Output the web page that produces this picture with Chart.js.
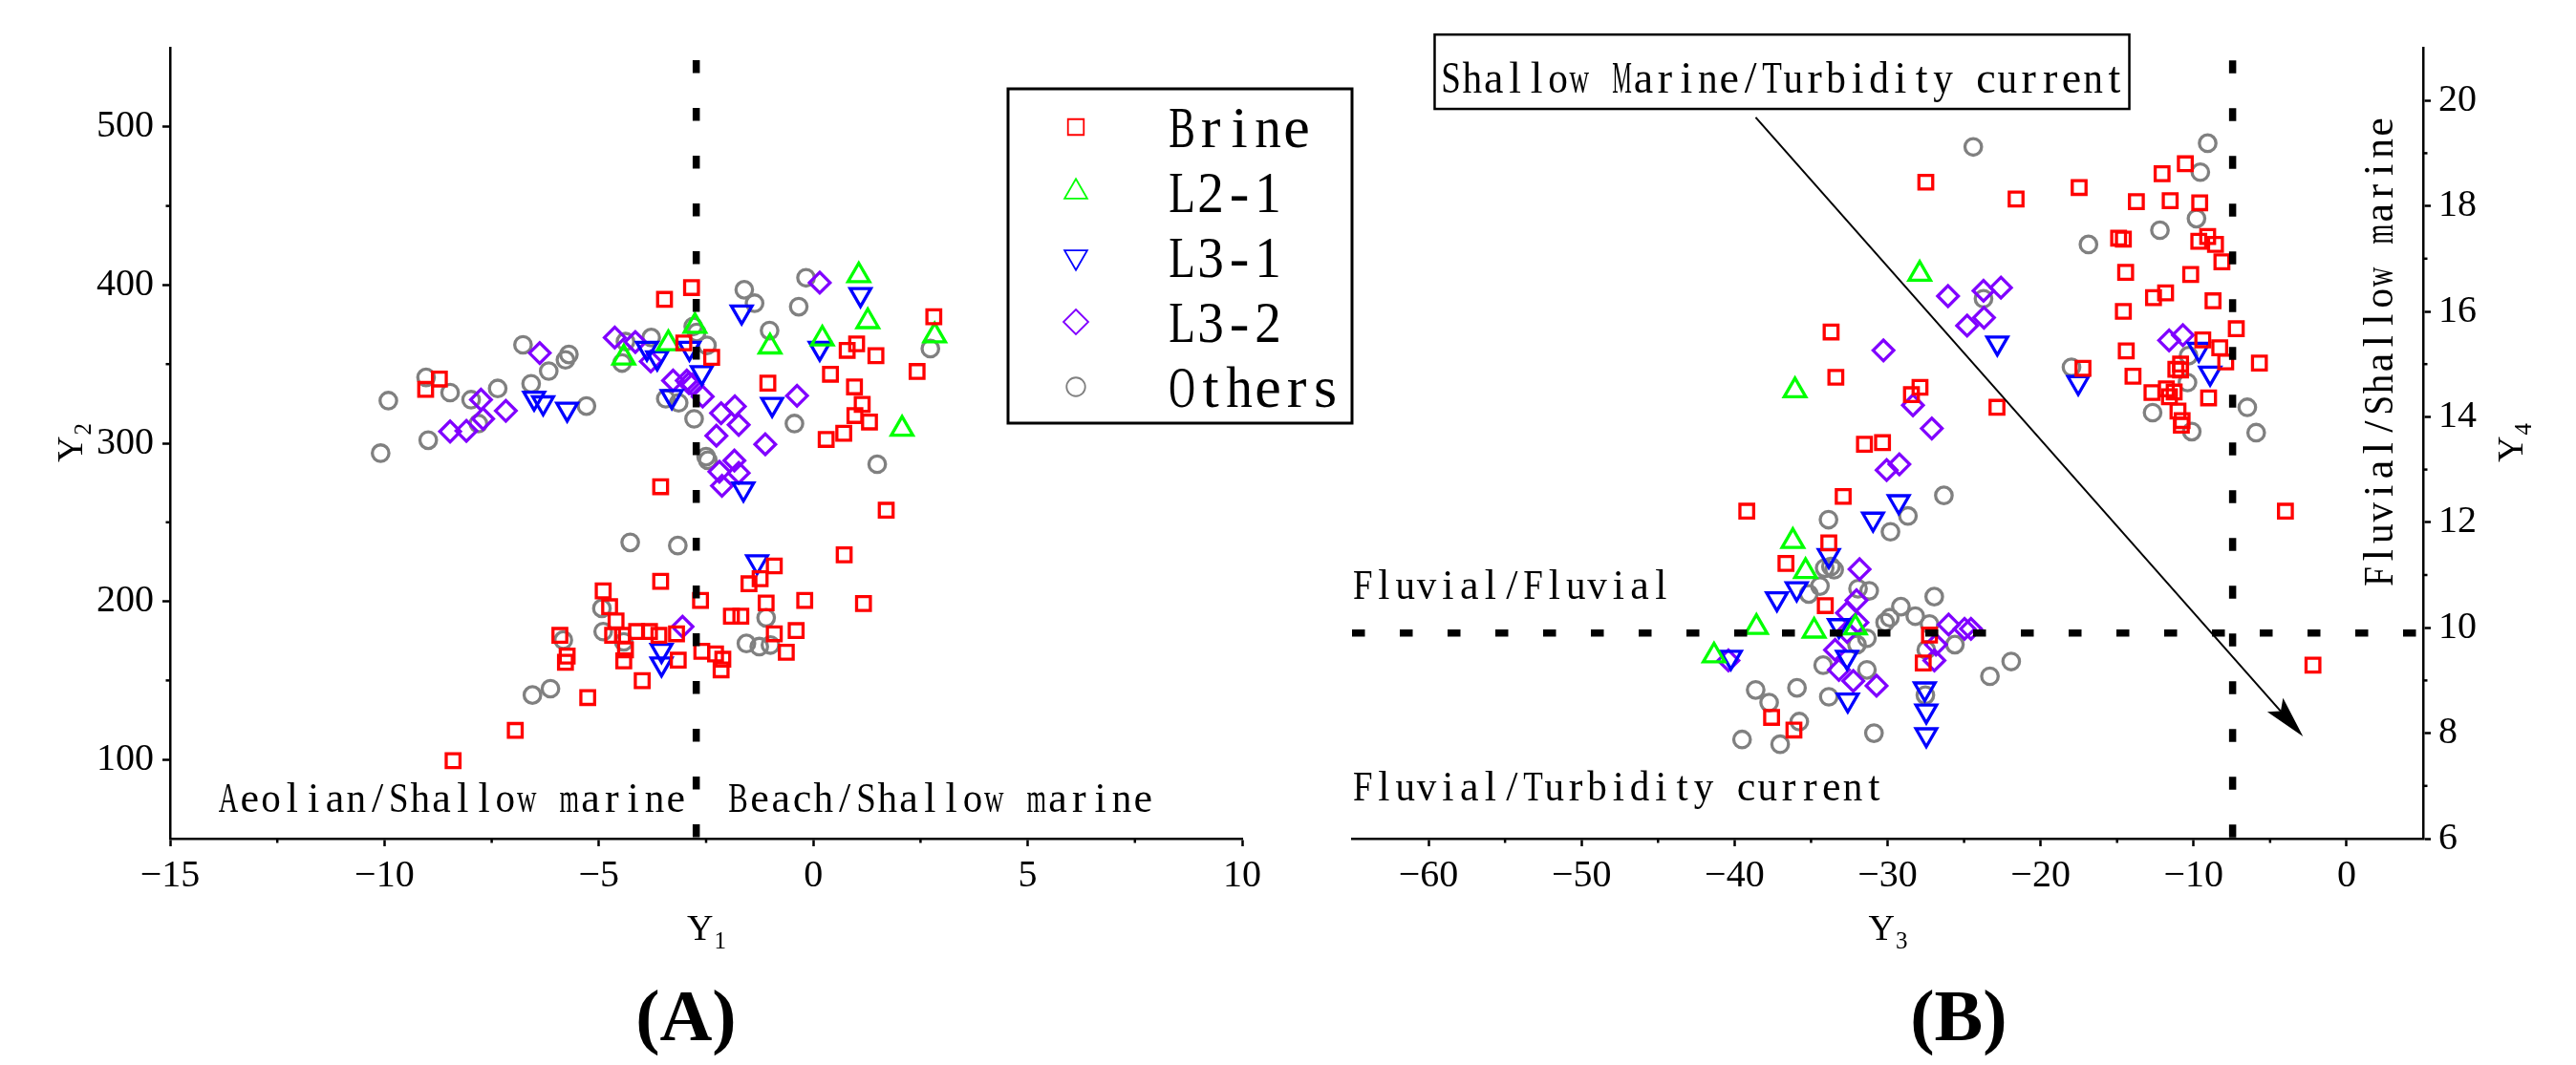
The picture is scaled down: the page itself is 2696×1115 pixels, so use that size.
<!DOCTYPE html>
<html>
<head>
<meta charset="utf-8">
<title>Y1-Y2 / Y3-Y4 scatter</title>
<script src="https://cdn.jsdelivr.net/npm/chart.js@4.4.1/dist/chart.umd.min.js"></script>
<style>
    html, body { margin: 0; padding: 0; background: #fff; }
    #wrap { position: relative; width: 2696px; height: 1115px; overflow: hidden; background: #fff; }
    #chartA { position: absolute; left: 0; top: 0; }
    #chartB { position: absolute; left: 1348px; top: 0; }
</style>
</head>
<body>
<div id="wrap">
    <canvas id="chartA" width="1420" height="1115"></canvas>
    <canvas id="chartB" width="1348" height="1115"></canvas>
</div>
<script>
'use strict';

// ---------- Panel A: Y1 vs Y2 ----------
const xTicksA = [-15, -10, -5, 0, 5, 10];
const yTicksA = [100, 200, 300, 400, 500];

const brineA = [
    [-9.04, 334], [-8.72, 340.6], [-3.47, 390.9], [-2.84, 398.4], [-3.02, 363.4], [-2.37, 354.3],
    [2.81, 379.9], [2.42, 345.3], [1.01, 362.8], [0.79, 358.7], [1.46, 355.3], [0.40, 343.6],
    [0.96, 335.6], [1.14, 324.5], [0.97, 317.5], [1.31, 313.4], [0.71, 306.3], [0.30, 302.4],
    [-1.06, 338], [-3.56, 272.5], [1.70, 257.6], [0.72, 229.4], [-0.91, 222.4], [-1.24, 214.3],
    [-1.50, 211.1], [-3.56, 212.7], [-4.90, 206.6], [-4.75, 196.6], [-2.63, 200.6], [-1.10, 199],
    [-0.20, 200.6], [1.17, 198.6], [-1.91, 190.6], [-1.69, 190.6], [-4.60, 187.6], [-0.40, 181.5],
    [-0.91, 179.5], [-0.63, 167.8], [-2.60, 168.4], [-2.28, 166.8], [-2.11, 163.4], [-2.15, 156.7],
    [-3.15, 162.8], [-3.19, 179.5], [-3.60, 178.5], [-3.82, 180.9], [-4.12, 180.9], [-4.45, 178.5],
    [-4.68, 178.5], [-4.38, 169.4], [-4.42, 162.4], [-3.99, 149.9], [-5.26, 139.2], [-5.91, 178.5],
    [-5.74, 165.4], [-5.78, 161.5], [-6.95, 118.4], [-8.40, 99.3]
];
const l21A = [
    [1.06, 406], [1.27, 377], [2.83, 368], [-1.01, 361], [0.21, 366], [2.07, 309],
    [-3.38, 363], [-2.76, 374], [-4.42, 354]
];
const l31A = [
    [1.10, 394], [-1.67, 383], [0.15, 360], [-0.96, 324.5], [-1.63, 271], [-1.31, 225],
    [-3.88, 360], [-3.64, 354], [-2.89, 360], [-2.60, 344.6], [-3.30, 329.5], [-6.30, 325.5],
    [-5.74, 321.5], [-6.51, 328.5], [-3.54, 169], [-3.54, 160.4]
];
const l32A = [
    [-6.38, 357], [-7.75, 327.5], [-7.17, 320.5], [-8.47, 307.4], [-8.09, 307.8], [-7.70, 315.4],
    [-4.63, 366.8], [-4.15, 364], [-3.79, 351.7], [-3.27, 339.6], [-2.95, 339.6], [-2.90, 338],
    [-2.82, 337], [-2.58, 329.5], [0.15, 401.5], [-0.38, 330], [-1.83, 323.3], [-2.15, 319],
    [-1.74, 311.6], [-2.26, 304.7], [-1.12, 299.3], [-1.84, 289], [-1.74, 281.2], [-2.19, 282],
    [-2.13, 273.1], [-3.05, 184]
];
const othersA = [
    [-10.09, 293.7], [-9.91, 326.9], [-8.98, 301.9], [-9.03, 341.6], [-8.47, 332], [-7.98, 327.5],
    [-7.81, 312.4], [-7.36, 334.6], [-6.77, 362.2], [-6.58, 337.6], [-6.17, 345.6], [-5.78, 352.7],
    [-5.70, 356.1], [-5.29, 323.5], [-4.46, 350.7], [-4.38, 364.2], [-3.78, 366.8], [-2.80, 373.8],
    [-2.72, 370], [-2.48, 361.8], [-3.44, 328.1], [-3.14, 325.5], [-2.78, 315.4], [-2.46, 289.2],
    [-2.50, 291.5], [-1.61, 397], [-1.37, 388.5], [-0.17, 404.6], [-0.34, 386.3], [-1.02, 371.2],
    [2.73, 359.8], [-0.44, 312.4], [1.49, 286.7], [-4.27, 237.3], [-3.16, 235.3], [-4.93, 195.6],
    [-4.90, 180.9], [-4.42, 174.4], [-5.83, 175.5], [-1.10, 189.6], [-1.56, 173.4], [-1.26, 171.4],
    [-1.00, 172.4], [-6.55, 140.8], [-6.13, 144.8]
];

// ---------- Panel B: Y3 vs Y4 ----------
const xTicksB = [-60, -50, -40, -30, -20, -10, 0];
const yTicksB = [6, 8, 10, 12, 14, 16, 18, 20];

const brineB = [
    [-10.54, 18.80], [-12.06, 18.61], [-17.48, 18.35], [-13.74, 18.08], [-11.53, 18.10], [-9.60, 18.06],
    [-14.90, 17.39], [-14.59, 17.37], [-9.66, 17.33], [-9.08, 17.42], [-8.57, 17.27], [-8.15, 16.94],
    [-14.44, 16.74], [-10.19, 16.70], [-12.62, 16.26], [-11.83, 16.35], [-8.73, 16.20], [-14.59, 16.0],
    [-7.21, 15.67], [-9.40, 15.46], [-8.29, 15.31], [-14.40, 15.25], [-5.70, 15.02], [-7.90, 15.04],
    [-10.85, 15.0], [-11.16, 14.9], [-10.85, 14.89], [-13.96, 14.77], [-17.23, 14.92], [-12.72, 14.46],
    [-11.78, 14.53], [-11.27, 14.47], [-11.58, 14.38], [-9.02, 14.36], [-11.02, 14.11], [-10.75, 13.93],
    [-10.8, 13.84], [-4.0, 12.21], [-2.2, 9.29], [-27.5, 18.45], [-21.6, 18.13], [-33.69, 15.61],
    [-33.38, 14.75], [-27.88, 14.56], [-28.44, 14.42], [-22.85, 14.18], [-31.51, 13.48], [-30.33, 13.51],
    [-32.90, 12.49], [-39.2, 12.21], [-33.84, 11.61], [-36.64, 11.22], [-34.07, 10.42], [-27.26, 9.86],
    [-27.67, 9.33], [-37.58, 8.30], [-36.12, 8.06]
];
const l21B = [
    [-27.9, 16.71], [-36.05, 14.5], [-36.19, 11.64], [-35.36, 11.07], [-38.57, 10.01], [-34.8, 9.94],
    [-41.34, 9.47], [-32.1, 10.0]
];
const l31B = [
    [-22.83, 15.4], [-17.54, 14.65], [-9.66, 15.28], [-8.92, 14.83], [-29.27, 12.39], [-30.95, 12.06],
    [-33.84, 11.37], [-37.23, 10.55], [-35.94, 10.74], [-33.18, 10.04], [-32.65, 9.44], [-40.24, 9.44],
    [-32.6, 8.63], [-27.57, 8.84], [-27.47, 8.42], [-27.47, 7.97]
];
const l32B = [
    [-26.05, 16.29], [-23.73, 16.39], [-22.59, 16.45], [-24.8, 15.73], [-23.7, 15.88], [-30.27, 15.26],
    [-11.6, 15.45], [-10.7, 15.55], [-28.34, 14.22], [-27.11, 13.78], [-30.06, 12.99], [-29.23, 13.1],
    [-31.83, 11.11], [-32.03, 10.52], [-32.65, 10.28], [-31.97, 10.1], [-32.65, 9.92], [-33.43, 9.58],
    [-33.18, 9.2], [-32.24, 8.99], [-30.72, 8.9], [-40.4, 9.38], [-26.01, 10.06], [-24.97, 9.98],
    [-24.55, 9.98], [-26.84, 9.68], [-26.94, 9.38]
];
const othersB = [
    [-24.4, 19.12], [-9.08, 19.19], [-9.56, 18.64], [-9.81, 17.76], [-12.2, 17.54], [-16.87, 17.27],
    [-23.73, 16.24], [-17.98, 14.94], [-10.33, 15.16], [-10.4, 14.65], [-12.68, 14.08], [-10.12, 13.72],
    [-6.49, 14.18], [-5.91, 13.70], [-26.32, 12.51], [-28.67, 12.12], [-29.81, 11.82], [-33.86, 12.05],
    [-33.7, 11.16], [-33.49, 11.10], [-34.11, 11.13], [-34.42, 10.79], [-35.15, 10.64], [-31.2, 10.70],
    [-31.93, 10.74], [-26.95, 10.59], [-29.13, 10.40], [-28.19, 10.22], [-29.85, 10.19], [-30.16, 10.10],
    [-27.26, 10.07], [-31.35, 9.80], [-32.0, 9.68], [-25.6, 9.68], [-27.47, 9.58], [-34.21, 9.29],
    [-31.35, 9.2], [-38.62, 8.82], [-37.74, 8.58], [-35.92, 8.86], [-33.84, 8.69], [-27.53, 8.72],
    [-35.77, 8.22], [-39.51, 7.88], [-37.02, 7.79], [-30.89, 8.0], [-23.31, 9.08], [-21.92, 9.36]
];

const seriesNames = ['Brine', 'L2-1', 'L3-1', 'L3-2', 'Others'];

// estilo de cada serie (mismo orden que seriesNames)
const seriesStyles = [
    { color: '#ff0000', pointStyle: 'rect', radius: 10.2, rotation: 0 },
    { color: '#00ff00', pointStyle: 'triangle', radius: 13, rotation: 0 },
    { color: '#0000ff', pointStyle: 'triangle', radius: 12.5, rotation: 180 },
    { color: '#8000ff', pointStyle: 'rectRot', radius: 10.8, rotation: 0 },
    { color: '#808080', pointStyle: 'circle', radius: 8.7, rotation: 0 }
];

const SERIF = '"Liberation Serif", "DejaVu Serif", serif';

function toPoints(pairs) {
    return pairs.map(p => ({ x: p[0], y: p[1] }));
}

function buildDatasets(groups) {
    return groups.map((g, i) => {
        const st = seriesStyles[i];
        return {
            label: seriesNames[i],
            data: toPoints(g),
            pointStyle: st.pointStyle,
            pointRadius: st.radius,
            pointRotation: st.rotation,
            borderColor: st.color,
            backgroundColor: 'rgba(0,0,0,0)',
            borderWidth: 3.3,
            clip: false
        };
    });
}

function minusLabel(v) {
    return v < 0 ? '\u2212' + Math.abs(v) : String(v);
}

/**
 * Texto estilo SimSun: cada caracter centrado en una celda fija
 */
function monoText(ctx, str, x, y, size, cell, angle) {
    ctx.save();
    ctx.translate(x, y);
    if (angle) ctx.rotate(angle);
    ctx.font = size + 'px ' + SERIF;
    ctx.fillStyle = '#000';
    ctx.textAlign = 'center';
    ctx.textBaseline = 'alphabetic';
    for (let i = 0; i < str.length; i++) {
        const ch = str[i];
        if (ch === ' ') continue;
        const w = ctx.measureText(ch).width;
        const s = Math.min(1, (cell * 0.92) / w);
        ctx.save();
        ctx.translate(cell * (i + 0.5), 0);
        ctx.scale(s, 1);
        ctx.fillText(ch, 0, 0);
        ctx.restore();
    }
    ctx.restore();
}

// "Y" con subíndice, centrado en (x, y) sobre la línea base
function subLabel(ctx, main, sub, x, y, angle) {
    ctx.save();
    ctx.translate(x, y);
    if (angle) ctx.rotate(angle);
    ctx.fillStyle = '#000';
    ctx.textBaseline = 'alphabetic';
    ctx.font = '38px ' + SERIF;
    const w1 = ctx.measureText(main).width;
    ctx.font = '25px ' + SERIF;
    const w2 = ctx.measureText(sub).width;
    const x0 = -(w1 + w2) / 2;
    ctx.font = '38px ' + SERIF;
    ctx.textAlign = 'left';
    ctx.fillText(main, x0, 0);
    ctx.font = '25px ' + SERIF;
    ctx.fillText(sub, x0 + w1 + 1, 9);
    ctx.restore();
}

function drawMarker(ctx, st, x, y, r) {
    ctx.save();
    ctx.strokeStyle = st.color;
    ctx.lineWidth = 1.8;
    ctx.beginPath();
    if (st.pointStyle === 'rect') {
        const h = r * Math.SQRT1_2;
        ctx.rect(x - h, y - h, 2 * h, 2 * h);
    } else if (st.pointStyle === 'rectRot') {
        ctx.moveTo(x, y - r); ctx.lineTo(x + r, y); ctx.lineTo(x, y + r); ctx.lineTo(x - r, y); ctx.closePath();
    } else if (st.pointStyle === 'triangle') {
        const d = st.rotation ? -1 : 1;
        ctx.moveTo(x, y - d * r);
        ctx.lineTo(x + r * 0.866, y + d * r * 0.5);
        ctx.lineTo(x - r * 0.866, y + d * r * 0.5);
        ctx.closePath();
    } else {
        ctx.arc(x, y, r, 0, Math.PI * 2);
    }
    ctx.stroke();
    ctx.restore();
}

/**
 * Plugin de decoración: líneas discontinuas, flecha, textos, ticks menores, leyenda
 */
function makeDecor(cfg) {
    return {
        id: 'decor',
        afterDatasetsDraw(chart) {
            const ctx = chart.ctx;
            const sx = chart.scales.x, sy = chart.scales.y;
            ctx.save();
            ctx.strokeStyle = '#000';
            ctx.lineWidth = 7.5;
            ctx.setLineDash([13.5, 36.5]);
            (cfg.vLines || []).forEach(l => {
                const x = sx.getPixelForValue(l.x);
                ctx.beginPath();
                ctx.moveTo(x, sy.getPixelForValue(l.from));
                ctx.lineTo(x, sy.getPixelForValue(l.to));
                ctx.stroke();
            });
            (cfg.hLines || []).forEach(l => {
                const y = sy.getPixelForValue(l.y);
                ctx.beginPath();
                ctx.moveTo(sx.getPixelForValue(l.from), y);
                ctx.lineTo(sx.getPixelForValue(l.to), y);
                ctx.stroke();
            });
            ctx.setLineDash([]);

            if (cfg.arrow) {
                const a = cfg.arrow;
                const x1 = sx.getPixelForValue(a.from[0]), y1 = sy.getPixelForValue(a.from[1]);
                const x2 = sx.getPixelForValue(a.to[0]), y2 = sy.getPixelForValue(a.to[1]);
                const ang = Math.atan2(y2 - y1, x2 - x1);
                const len = 44, half = 11;
                ctx.lineWidth = 2;
                ctx.beginPath();
                ctx.moveTo(x1, y1);
                ctx.lineTo(x2 - Math.cos(ang) * len * 0.8, y2 - Math.sin(ang) * len * 0.8);
                ctx.stroke();
                ctx.fillStyle = '#000';
                ctx.beginPath();
                ctx.moveTo(x2, y2);
                ctx.lineTo(x2 - Math.cos(ang) * len - Math.sin(ang) * half, y2 - Math.sin(ang) * len + Math.cos(ang) * half);
                ctx.lineTo(x2 - Math.cos(ang) * len * 0.8, y2 - Math.sin(ang) * len * 0.8);
                ctx.lineTo(x2 - Math.cos(ang) * len + Math.sin(ang) * half, y2 - Math.sin(ang) * len - Math.cos(ang) * half);
                ctx.closePath();
                ctx.fill();
            }
            ctx.restore();
        },
        afterDraw(chart) {
            const ctx = chart.ctx;
            const sx = chart.scales.x, sy = chart.scales.y;
            const area = chart.chartArea;
            ctx.save();

            // ticks menores
            ctx.strokeStyle = '#000';
            ctx.lineWidth = 2.5;
            (cfg.minorX || []).forEach(v => {
                const x = sx.getPixelForValue(v);
                ctx.beginPath();
                ctx.moveTo(x, area.bottom);
                ctx.lineTo(x, area.bottom + 4.5);
                ctx.stroke();
            });
            (cfg.minorY || []).forEach(v => {
                const y = sy.getPixelForValue(v);
                ctx.beginPath();
                if (cfg.yRight) {
                    ctx.moveTo(area.right, y);
                    ctx.lineTo(area.right + 4.5, y);
                } else {
                    ctx.moveTo(area.left - 4.5, y);
                    ctx.lineTo(area.left, y);
                }
                ctx.stroke();
            });

            // textos de zonas
            (cfg.texts || []).forEach(t => {
                monoText(ctx, t.text, sx.getPixelForValue(t.x), sy.getPixelForValue(t.y),
                    t.size, t.cell, t.angle || 0);
            });

            // recuadro con texto
            if (cfg.box) {
                const b = cfg.box;
                const bx1 = sx.getPixelForValue(b.x1), bx2 = sx.getPixelForValue(b.x2);
                const by1 = sy.getPixelForValue(b.y1), by2 = sy.getPixelForValue(b.y2);
                ctx.fillStyle = '#fff';
                ctx.fillRect(bx1, by1, bx2 - bx1, by2 - by1);
                ctx.lineWidth = 2.5;
                ctx.strokeStyle = '#000';
                ctx.strokeRect(bx1, by1, bx2 - bx1, by2 - by1);
                monoText(ctx, b.text, sx.getPixelForValue(b.tx), sy.getPixelForValue(b.ty), b.size, b.cell, 0);
            }

            // títulos de ejes
            const cx = (area.left + area.right) / 2;
            const cy = (area.top + area.bottom) / 2;
            subLabel(ctx, 'Y', cfg.xSub, cx, area.bottom + 106, 0);
            subLabel(ctx, 'Y', cfg.ySub, cfg.yTitleX, cy, -Math.PI / 2);

            // letra del panel
            ctx.fillStyle = '#000';
            ctx.font = 'bold 76px ' + SERIF;
            ctx.textAlign = 'center';
            ctx.textBaseline = 'alphabetic';
            ctx.fillText(cfg.panel, sx.getPixelForValue(cfg.panelX), area.bottom + 211);

            // leyenda
            if (cfg.legend) {
                const L = cfg.legend;
                ctx.fillStyle = '#fff';
                ctx.fillRect(L.x, L.y, L.w, L.h);
                ctx.lineWidth = 3;
                ctx.strokeStyle = '#000';
                ctx.strokeRect(L.x, L.y, L.w, L.h);
                seriesNames.forEach((name, i) => {
                    const rowY = L.y + L.first + i * L.step;
                    const st = seriesStyles[i];
                    const legR = [11.7, 13.7, 13.7, 13, 9.75][i];
                    drawMarker(ctx, st, L.x + L.markerDx, rowY, legR);
                    monoText(ctx, name, L.x + L.textDx, rowY + 21, 62, 30, 0);
                });
            }
            ctx.restore();
        }
    };
}

function axisCommon(min, max, ticksList, sizeFn, pad, position) {
    return {
        type: 'linear',
        position: position,
        min: min,
        max: max,
        afterBuildTicks: axis => { axis.ticks = ticksList.map(v => ({ value: v })); },
        afterFit: sizeFn,
        ticks: {
            color: '#000',
            padding: pad,
            font: { family: SERIF, size: 40 },
            callback: v => minusLabel(v),
            maxRotation: 0,
            autoSkip: false
        },
        grid: {
            display: true,
            drawOnChartArea: false,
            drawTicks: true,
            tickLength: 8,
            tickWidth: 2.5,
            color: '#000'
        },
        border: { display: true, color: '#000', width: 2.5 }
    };
}

function initCharts() {
    if (typeof Chart === 'undefined') {
        console.error('Chart.js no está cargado');
        return;
    }

    // Panel A
    new Chart(document.getElementById('chartA').getContext('2d'), {
        type: 'scatter',
        data: { datasets: buildDatasets([brineA, l21A, l31A, l32A, othersA]) },
        options: {
            responsive: false,
            animation: false,
            devicePixelRatio: 1,
            events: [],
            layout: { padding: { left: 0, top: 50, right: 120, bottom: 0 } },
            plugins: { legend: { display: false }, tooltip: { enabled: false } },
            scales: {
                x: axisCommon(-15, 10, xTicksA, s => { s.height = 237; }, 7, 'bottom'),
                y: axisCommon(50, 550, yTicksA, s => { s.width = 178; }, 9, 'left')
            }
        },
        plugins: [makeDecor({
            vLines: [{ x: -2.73, from: 542.1, to: 50 }],
            minorX: [-12.5, -7.5, -2.5, 2.5, 7.5],
            minorY: [150, 250, 350, 450],
            yRight: false,
            texts: [
                { text: 'Aeolian/Shallow marine', x: -13.89, y: 66.9, size: 44, cell: 22.3 },
                { text: 'Beach/Shallow marine', x: -2.0, y: 66.9, size: 44, cell: 22.3 }
            ],
            xSub: '1',
            ySub: '2',
            yTitleX: 86,
            panel: '(A)',
            panelX: -2.97,
            legend: { x: 1055, y: 93, w: 360, h: 350, first: 40, step: 68, markerDx: 71, textDx: 167 }
        })]
    });

    // Panel B
    new Chart(document.getElementById('chartB').getContext('2d'), {
        type: 'scatter',
        data: { datasets: buildDatasets([brineB, l21B, l31B, l32B, othersB]) },
        options: {
            responsive: false,
            animation: false,
            devicePixelRatio: 1,
            events: [],
            layout: { padding: { left: 67, top: 50, right: 0, bottom: 0 } },
            plugins: { legend: { display: false }, tooltip: { enabled: false } },
            scales: {
                x: axisCommon(-65, 5, xTicksB, s => { s.height = 237; }, 7, 'bottom'),
                y: axisCommon(6, 21, yTicksB, s => { s.width = 160; }, 8, 'right')
            }
        },
        plugins: [makeDecor({
            vLines: [{ x: -7.45, from: 20.76, to: 6 }],
            hLines: [{ y: 9.9, from: -65, to: 5 }],
            minorX: [-55, -45, -35, -25, -15, -5],
            minorY: [7, 9, 11, 13, 15, 17, 19],
            yRight: true,
            arrow: { from: [-38.62, 19.68], to: [-2.85, 7.94] },
            box: {
                x1: -59.6, x2: -14.2, y1: 21.25, y2: 19.84,
                text: 'Shallow Marine/Turbidity current', tx: -59.24, ty: 20.15, size: 46, cell: 22.4
            },
            texts: [
                { text: 'Fluvial/Fluvial', x: -65, y: 10.55, size: 44, cell: 22.3 },
                { text: 'Fluvial/Turbidity current', x: -65, y: 6.73, size: 44, cell: 22.3 },
                { text: 'Fluvial/Shallow marine', x: 3.0, y: 10.77, size: 44, cell: 22.4, angle: -Math.PI / 2 }
            ],
            xSub: '3',
            ySub: '4',
            yTitleX: 1292,
            panel: '(B)',
            panelX: -25.35
        })]
    });
}

if (document.readyState === 'loading') {
    document.addEventListener('DOMContentLoaded', initCharts);
} else {
    initCharts();
}
</script>
</body>
</html>
